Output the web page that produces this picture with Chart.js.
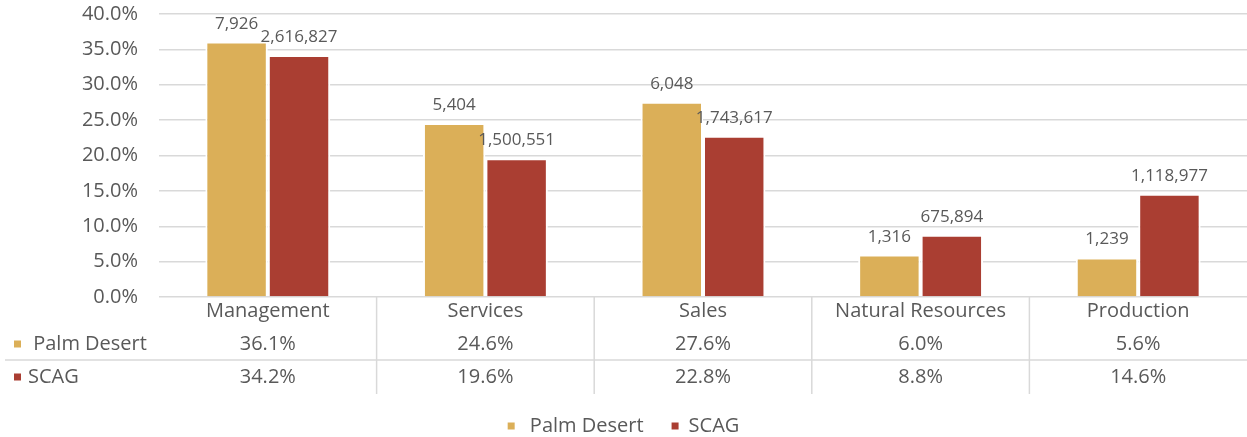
<!DOCTYPE html>
<html><head><meta charset="utf-8">
<script src="https://cdn.jsdelivr.net/npm/chart.js@4.4.1/dist/chart.umd.min.js"></script>
<style>html,body{margin:0;padding:0;background:#fff;}</style>
</head><body>
<canvas id="c" width="1247" height="437"></canvas>
<script>
const categories = ['Management', 'Services', 'Sales', 'Natural Resources', 'Production'];
const seriesNames = [' Palm Desert', 'SCAG'];
const palmDesertPct = [36.1, 24.6, 27.6, 6.0, 5.6];
const scagPct = [34.2, 19.6, 22.8, 8.8, 14.6];
const palmDesertCount = [7926, 5404, 6048, 1316, 1239];
const scagCount = [2616827, 1500551, 1743617, 675894, 1118977];
const yMin = 0, yMax = 40, yStep = 5;

const FONT = "'Open Sans', sans-serif";
const TXT = '#595959';
const GRID = '#d9d9d9';
const GOLD = '#DBAF58';
const RED = '#AA3E32';

const tablePlugin = {
  id: 'tbl',
  afterDatasetsDraw(chart) {
    const ctx = chart.ctx;
    const counts = [palmDesertCount, scagCount];
    ctx.save();
    ctx.font = '17px ' + FONT;
    ctx.fillStyle = TXT;
    ctx.textAlign = 'center';
    ctx.textBaseline = 'alphabetic';
    chart.data.datasets.forEach((ds, di) => {
      chart.getDatasetMeta(di).data.forEach((bar, i) => {
        ctx.fillText(counts[di][i].toLocaleString('en-US'), bar.x, bar.y - 13);
      });
    });
    ctx.restore();
  },
  afterDraw(chart) {
    const ctx = chart.ctx, xs = chart.scales.x, area = chart.chartArea;
    const b = area.bottom;
    const pcts = [palmDesertPct, scagPct];
    const cols = [GOLD, RED];
    ctx.save();
    ctx.strokeStyle = GRID;
    ctx.lineWidth = 1.5;
    ctx.beginPath();
    ctx.moveTo(5, b + 63); ctx.lineTo(area.right, b + 63);
    ctx.stroke();
    for (let i = 0; i < categories.length - 1; i++) {
      const xp = (xs.getPixelForValue(i) + xs.getPixelForValue(i + 1)) / 2;
      ctx.beginPath();
      ctx.moveTo(xp, b); ctx.lineTo(xp, b + 97);
      ctx.stroke();
    }
    ctx.fillStyle = TXT;
    ctx.font = '20px ' + FONT;
    ctx.textBaseline = 'middle';
    ctx.textAlign = 'center';
    categories.forEach((c, i) => {
      const xp = xs.getPixelForValue(i);
      ctx.fillText(c, xp, b + 14);
      ctx.fillText(pcts[0][i].toFixed(1) + '%', xp, b + 47);
      ctx.fillText(pcts[1][i].toFixed(1) + '%', xp, b + 80);
    });
    ctx.textAlign = 'left';
    [b + 47, b + 80].forEach((yy, r) => {
      ctx.fillStyle = cols[r];
      ctx.fillRect(14, yy - 3.5, 7, 7);
      ctx.fillStyle = TXT;
      ctx.fillText(seriesNames[r], 28, yy);
    });
    ctx.restore();
  }
};

new Chart(document.getElementById('c'), {
  type: 'bar',
  data: {
    labels: categories,
    datasets: [
      { label: seriesNames[0], data: palmDesertPct, backgroundColor: GOLD, borderColor: '#fff', borderWidth: 2 },
      { label: seriesNames[1], data: scagPct, backgroundColor: RED, borderColor: '#fff', borderWidth: 2 }
    ]
  },
  options: {
    responsive: false,
    animation: false,
    devicePixelRatio: 1,
    categoryPercentage: 0.574,
    barPercentage: 1,
    layout: { padding: { top: 14, bottom: -9, left: 0, right: 0 } },
    plugins: {
      tooltip: { enabled: false },
      legend: {
        position: 'bottom',
        labels: {
          boxWidth: 7, boxHeight: 7, padding: 28,
          color: TXT,
          font: { family: FONT, size: 20 },
          generateLabels(chart) {
            return chart.data.datasets.map((ds, i) => ({
              text: ds.label, fillStyle: ds.backgroundColor, strokeStyle: ds.backgroundColor,
              lineWidth: 0, hidden: false, datasetIndex: i, fontColor: TXT
            }));
          }
        }
      }
    },
    scales: {
      x: {
        grid: { display: false },
        border: { display: false },
        ticks: { display: false },
        afterFit(s) { s.height = 91; }
      },
      y: {
        min: yMin, max: yMax,
        ticks: {
          stepSize: yStep, padding: 0, color: TXT,
          font: { family: FONT, size: 20 },
          callback: v => v.toFixed(1) + '%'
        },
        grid: { color: GRID, lineWidth: 1.5, drawTicks: true, tickLength: 21, tickColor: 'rgba(0,0,0,0)' },
        border: { display: false },
        afterFit(s) { s.width = 159; }
      }
    }
  },
  plugins: [tablePlugin]
});
</script>
</body></html>
